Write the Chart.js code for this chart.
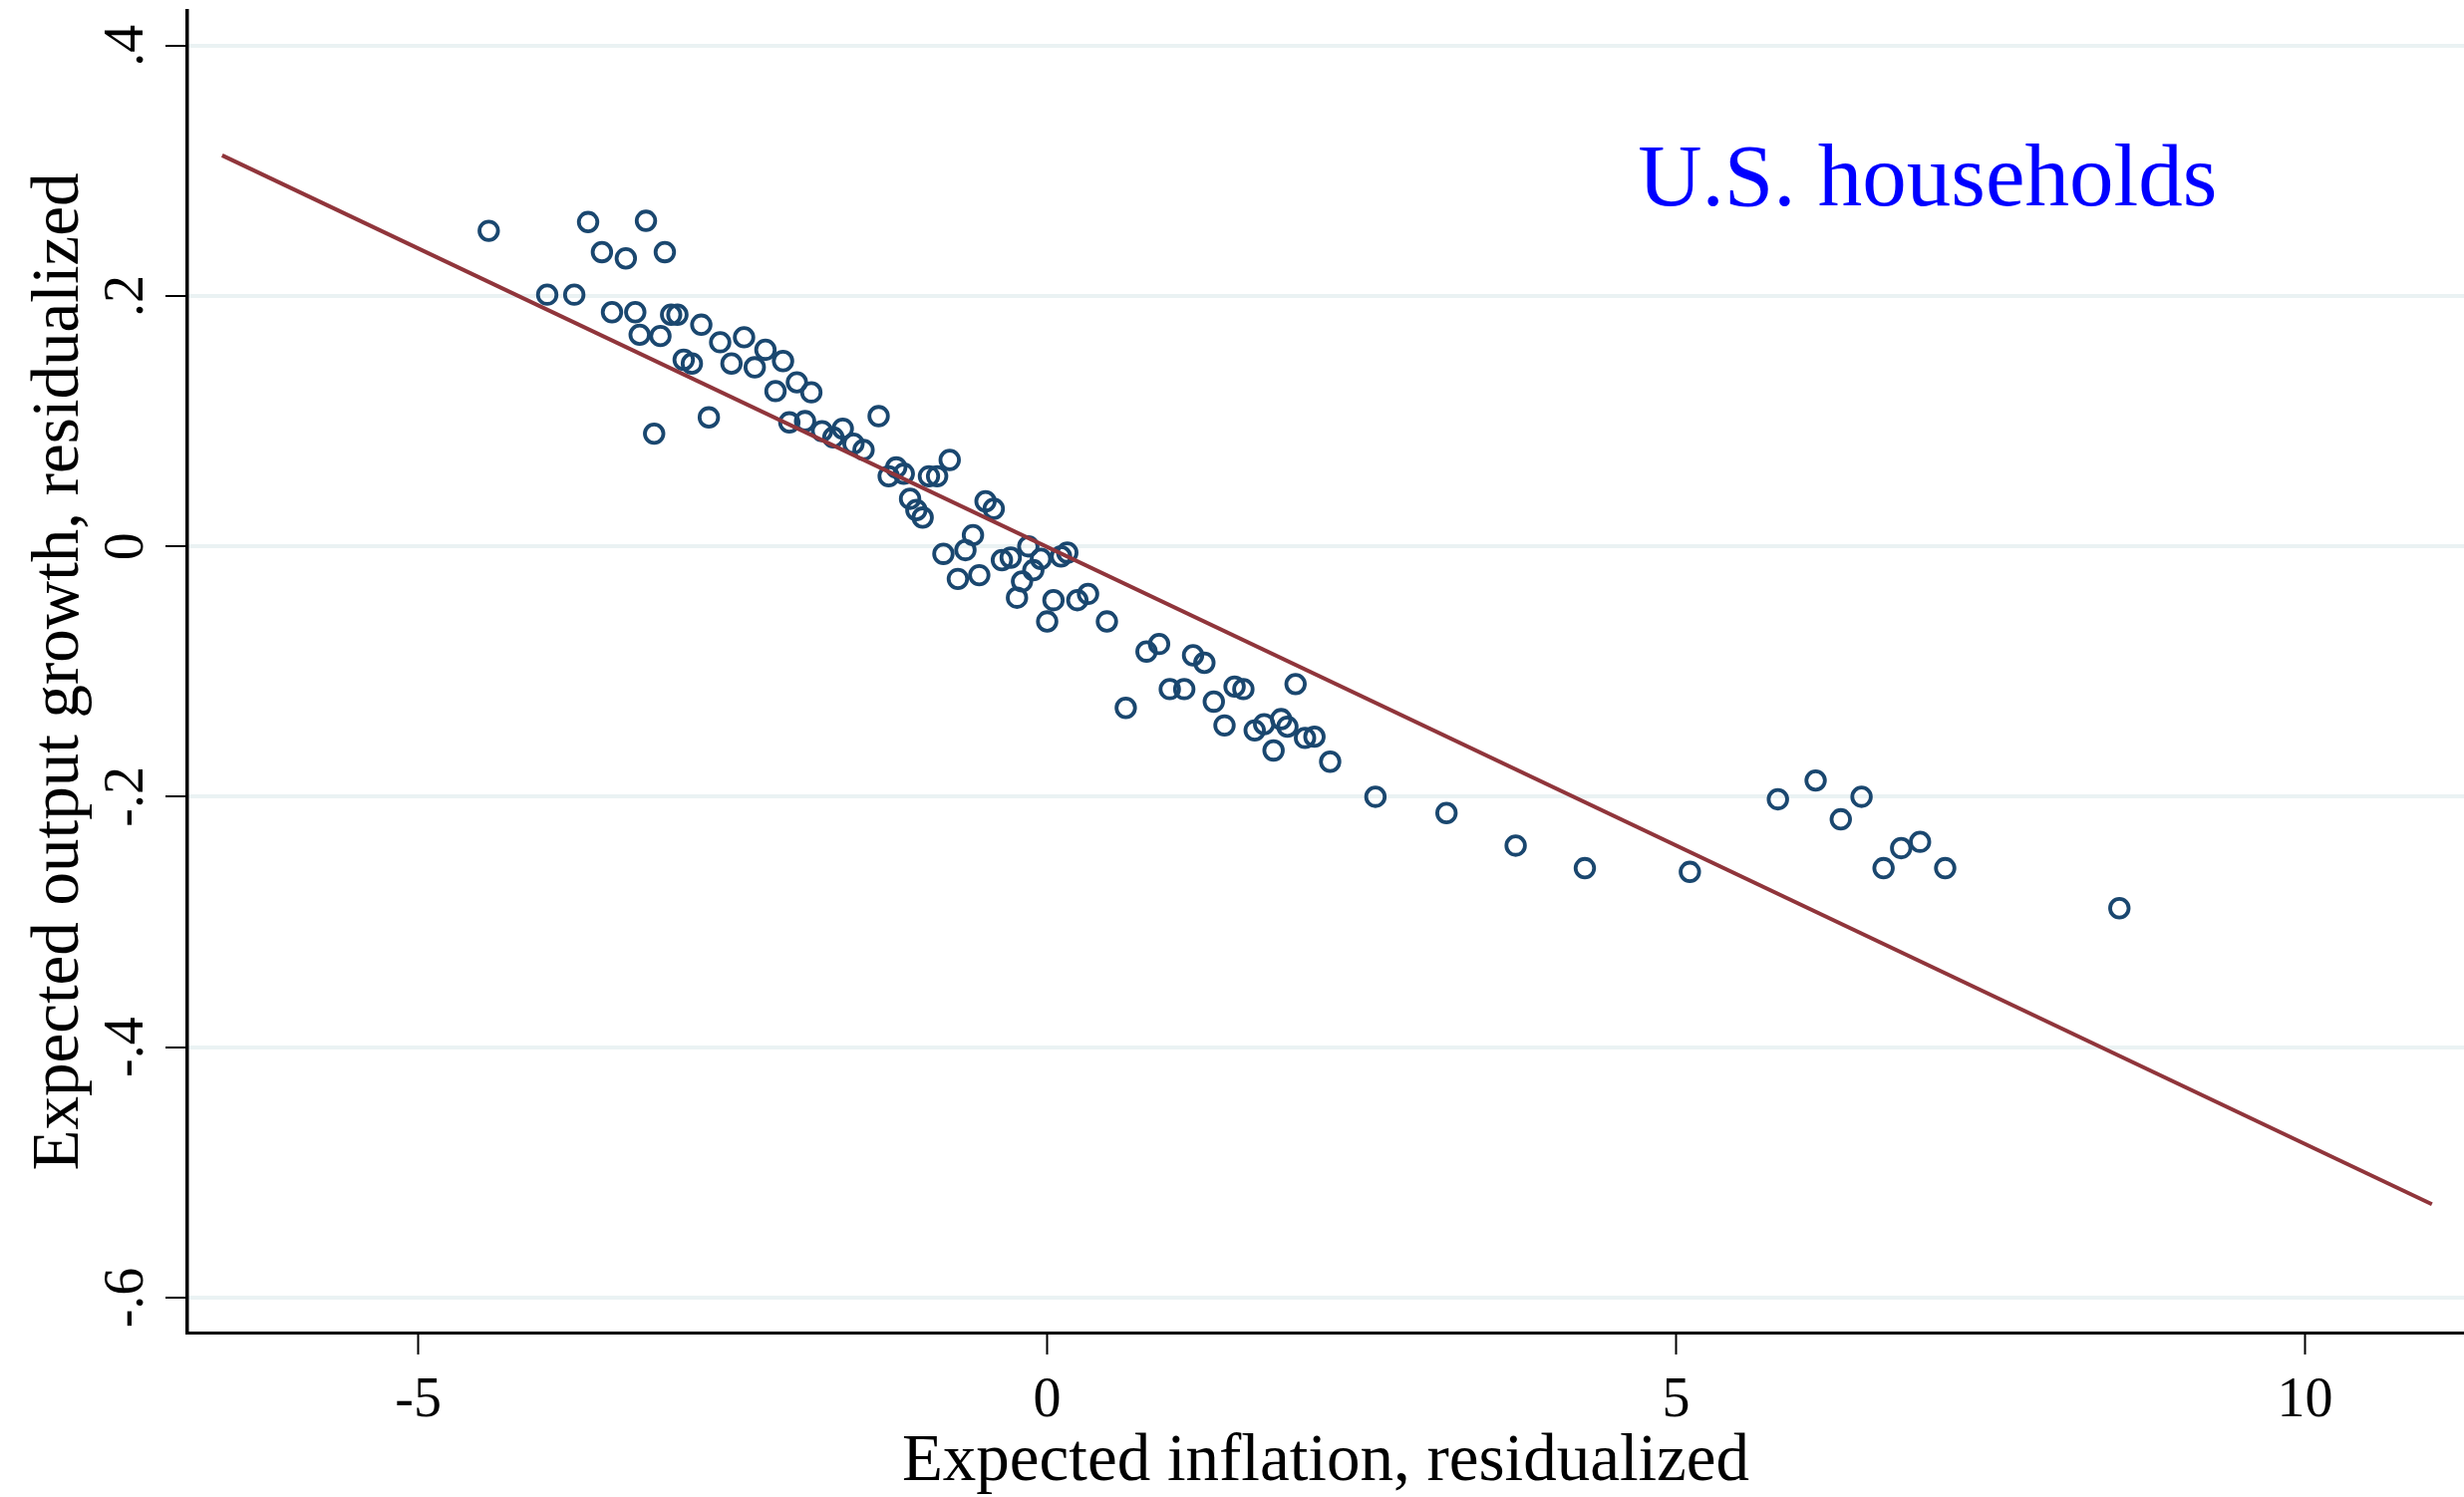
<!DOCTYPE html>
<html>
<head>
<meta charset="utf-8">
<title>Expected inflation vs expected output growth</title>
<script src="https://cdn.jsdelivr.net/npm/chart.js@4.4.1/dist/chart.umd.min.js"></script>
<style>
  html, body { margin: 0; padding: 0; background: #ffffff; }
  #chart { display: block; }
</style>
</head>
<body>
<canvas id="chart" width="2472" height="1502"></canvas>
<script>
// binned scatter
const inflation = [
  -4.44, -3.975, -3.76, -3.65, -3.54, -3.46, -3.35, -3.275, -3.24, -3.19,
  -3.125, -3.075, -3.04, -2.99, -2.94, -2.89, -2.825, -2.75, -2.69, -2.6,
  -2.51, -2.41, -2.325, -2.24, -2.16, -2.1, -2.05, -1.99, -1.925, -1.875,
  -1.79, -1.7, -1.625, -1.54, -1.46, -1.34, -1.26, -1.2, -1.14, -1.09,
  -1.04, -0.99, -0.94, -0.875, -0.825, -0.775, -0.71, -0.65, -0.59, -0.54,
  -0.49, -0.425, -0.36, -0.29, -0.24, -0.2, -0.15, -0.11, -0.05, 0.0,
  0.05, 0.11, 0.16, 0.24, 0.325, 0.475, 0.625, 0.79, 0.89, 0.975,
  1.09, 1.16, 1.25, 1.325, 1.41, 1.49, 1.56, 1.65, 1.725, 1.8,
  1.86, 1.91, 1.975, 2.05, 2.125, 2.25, 2.61, 3.175, 3.725, 4.275,
  5.11, 5.81, 6.11, 6.31, 6.475, 6.65, 6.79, 6.94, 7.14, 8.525
];
const outputGrowth = [
  0.252, 0.201, 0.201, 0.259, 0.235, 0.187, 0.230, 0.187, 0.169, 0.260,
  0.090, 0.168, 0.235, 0.185, 0.185, 0.149, 0.146, 0.177, 0.103, 0.163,
  0.146, 0.167, 0.143, 0.157, 0.124, 0.148, 0.099, 0.131, 0.100, 0.123,
  0.092, 0.087, 0.094, 0.082, 0.077, 0.104, 0.056, 0.063, 0.058, 0.038,
  0.029, 0.023, 0.056, 0.056, -0.006, 0.069, -0.026, -0.003, 0.009, -0.023,
  0.036, 0.030, -0.011, -0.009, -0.041, -0.028, 0.0, -0.019, -0.010, -0.060,
  -0.043, -0.008, -0.005, -0.043, -0.038, -0.060, -0.129, -0.084, -0.078, -0.114,
  -0.114, -0.087, -0.093, -0.124, -0.143, -0.112, -0.114, -0.147, -0.142, -0.163,
  -0.138, -0.144, -0.110, -0.153, -0.152, -0.172, -0.200, -0.213, -0.239, -0.257,
  -0.260, -0.202, -0.187, -0.218, -0.200, -0.257, -0.241, -0.236, -0.257, -0.289
];

// linear fit line end points
const fitX = [-6.56, 11.01];
const fitY = [0.3123, -0.5254];

const xTicks = [-5, 0, 5, 10];
const xTickLabels = ['-5', '0', '5', '10'];
const yTicks = [-0.6, -0.4, -0.2, 0, 0.2, 0.4];
const yTickLabels = ['-.6', '-.4', '-.2', '0', '.2', '.4'];

const xTitle = 'Expected inflation, residualized';
const yTitle = 'Expected output growth, residualized';
const note = 'U.S. households';

const serif = '"Liberation Serif", "Times New Roman", serif';
const navy = '#1a476f';
const maroon = '#90353b';

const scatterPts = inflation.map((x, i) => ({x: x, y: outputGrowth[i]}));
const fitPts = fitX.map((x, i) => ({x: x, y: fitY[i]}));

// tick labels, axis titles and the note drawn by hand (rotated y labels like Stata)
const stataText = {
  id: 'stataText',
  afterDraw(chart) {
    const ctx = chart.ctx;
    const xs = chart.scales.x;
    const ys = chart.scales.y;
    const area = chart.chartArea;
    ctx.save();
    ctx.fillStyle = '#000000';

    ctx.font = '56px ' + serif;
    ctx.textAlign = 'center';
    ctx.textBaseline = 'alphabetic';
    xTicks.forEach((v, i) => {
      ctx.fillText(xTickLabels[i], xs.getPixelForValue(v), 1421);
    });

    yTicks.forEach((v, i) => {
      ctx.save();
      ctx.translate(143, ys.getPixelForValue(v));
      ctx.rotate(-Math.PI / 2);
      ctx.fillText(yTickLabels[i], 0, 0);
      ctx.restore();
    });

    ctx.font = '67px ' + serif;
    ctx.fillText(xTitle, (area.left + area.right) / 2, 1485);
    ctx.save();
    ctx.translate(78, (area.top + area.bottom) / 2);
    ctx.rotate(-Math.PI / 2);
    ctx.fillText(yTitle, 0, 0);
    ctx.restore();

    ctx.fillStyle = '#0000ff';
    ctx.font = '89px ' + serif;
    ctx.fillText(note, xs.getPixelForValue(7), ys.getPixelForValue(0.3) + 35);
    ctx.restore();
  }
};

const ctx = document.getElementById('chart').getContext('2d');
const chart = new Chart(ctx, {
  type: 'scatter',
  data: {
    datasets: [{
      type: 'line',
      data: fitPts,
      borderColor: maroon,
      borderWidth: 4,
      pointRadius: 0,
      fill: false,
      order: 0
    }, {
      data: scatterPts,
      pointStyle: 'circle',
      pointRadius: 9.3,
      pointBorderWidth: 3.8,
      pointBorderColor: navy,
      pointBackgroundColor: 'rgba(0,0,0,0)',
      order: 1
    }]
  },
  options: {
    responsive: false,
    animation: false,
    devicePixelRatio: 1,
    layout: { autoPadding: false, padding: { left: 0, top: 11, right: 0, bottom: 0 } },
    plugins: {
      legend: { display: false },
      tooltip: { enabled: false }
    },
    scales: {
      x: {
        type: 'linear',
        min: -6.836,
        max: 11.265,
        afterBuildTicks: (s) => { s.ticks = xTicks.map(v => ({value: v})); },
        afterFit: (s) => { s.height = 165; },
        ticks: { display: false },
        grid: {
          drawOnChartArea: false,
          drawTicks: true,
          tickLength: 22,
          tickColor: '#000000',
          tickWidth: 2
        },
        border: { display: true, color: '#000000', width: 3 }
      },
      y: {
        type: 'linear',
        min: -0.6279,
        max: 0.4276,
        afterBuildTicks: (s) => { s.ticks = yTicks.map(v => ({value: v})); },
        afterFit: (s) => { s.width = 188; },
        ticks: { display: false },
        grid: {
          drawOnChartArea: true,
          color: '#eaf2f3',
          lineWidth: 4,
          drawTicks: true,
          tickLength: 22,
          tickColor: '#000000',
          tickWidth: 2
        },
        border: { display: true, color: '#000000', width: 3.5 }
      }
    }
  },
  plugins: [stataText]
});
</script>
</body>
</html>
